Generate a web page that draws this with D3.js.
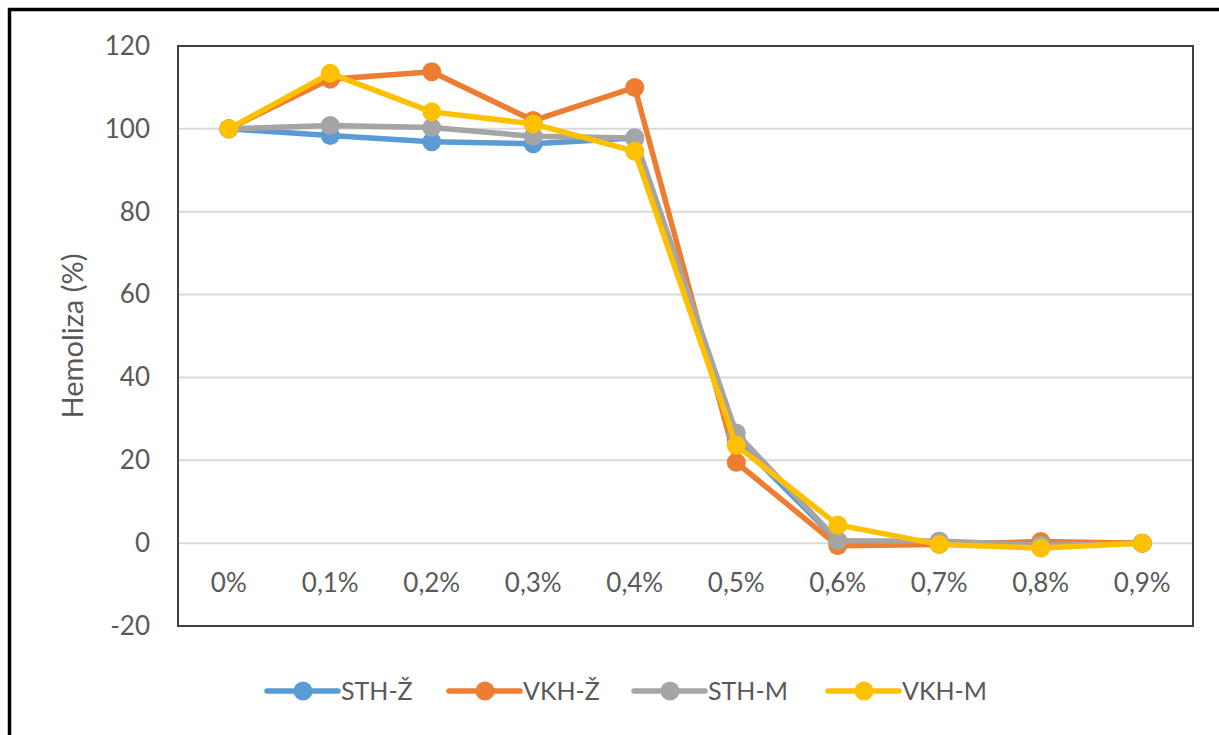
<!DOCTYPE html>
<html>
<head>
<meta charset="utf-8">
<script src="https://cdn.jsdelivr.net/npm/d3@7"></script>
<style>
  html, body { margin: 0; padding: 0; background: #fff; }
  svg { display: block; }
  text { font-family: Lato, "Open Sans", "Liberation Sans", sans-serif; fill: #595959; }
</style>
</head>
<body>
<svg id="chart" width="1219" height="735"></svg>
<script>
// ---- data ----
const categories = ["0%", "0,1%", "0,2%", "0,3%", "0,4%", "0,5%", "0,6%", "0,7%", "0,8%", "0,9%"];
const seriesNames = ["STH-Ž", "VKH-Ž", "STH-M", "VKH-M"];
const sthZ = [100, 98.4, 96.9, 96.4, 97.8, 25, 0.5, 0, 0, 0];
const vkhZ = [100, 112, 113.8, 102, 110, 19.5, -0.6, -0.3, 0.4, 0];
const sthM = [100, 100.8, 100.3, 98.2, 97.8, 26.6, 0.6, 0.5, -0.5, 0];
const vkhM = [100, 113.4, 104.1, 101.2, 94.6, 23.6, 4.4, -0.3, -1.2, 0];
const seriesValues = [sthZ, vkhZ, sthM, vkhM];
const colors = ["#5B9BD5", "#ED7D31", "#A5A5A5", "#FFC000"];
const yTicks = [-20, 0, 20, 40, 60, 80, 100, 120];
const yTickLabels = ["-20", "0", "20", "40", "60", "80", "100", "120"];
const yTitle = "Hemoliza (%)";

// ---- layout ----
const svg = d3.select("#chart");
const plot = { left: 178, right: 1193, top: 46, bottom: 626 };

const x = d3.scaleBand().domain(categories).range([plot.left, plot.right]).padding(0);
const y = d3.scaleLinear().domain([-20, 120]).range([plot.bottom, plot.top]);
const cx = c => x(c) + x.bandwidth() / 2;

// outer frame
svg.append("rect").attr("x", 9.5).attr("y", 9.5).attr("width", 1240).attr("height", 760)
  .attr("fill", "none").attr("stroke", "#000").attr("stroke-width", 3.5);

// gridlines
svg.append("g").selectAll("line").data(yTicks).join("line")
  .attr("x1", plot.left).attr("x2", plot.right)
  .attr("y1", d => y(d)).attr("y2", d => y(d))
  .attr("stroke", "#d9d9d9").attr("stroke-width", 2);

// plot border
svg.append("rect").attr("x", plot.left).attr("y", plot.top)
  .attr("width", plot.right - plot.left).attr("height", plot.bottom - plot.top)
  .attr("fill", "none").attr("stroke", "#404040").attr("stroke-width", 2);

// y axis
const yAxis = svg.append("g").attr("transform", `translate(${plot.left},0)`)
  .call(d3.axisLeft(y).tickValues(yTicks).tickSize(0).tickPadding(28)
    .tickFormat((d, i) => yTickLabels[i]));
yAxis.select(".domain").remove();
yAxis.selectAll("text").attr("font-size", 26).style("font-family", "Lato, sans-serif").attr("fill", "#595959");

// x axis (labels only)
const xAxis = svg.append("g").attr("transform", `translate(0,${y(0)})`)
  .call(d3.axisBottom(x).tickSize(0).tickPadding(30));
xAxis.select(".domain").remove();
xAxis.selectAll("text").attr("font-size", 26).style("font-family", "Lato, sans-serif").attr("fill", "#595959");

// y title
svg.append("text").attr("transform", `translate(83,${(plot.top + plot.bottom) / 2}) rotate(-90)`)
  .attr("text-anchor", "middle").attr("font-size", 29).text(yTitle);

// series
const line = d3.line().x((d, i) => cx(categories[i])).y(d => y(d));
seriesValues.forEach((vals, s) => {
  const g = svg.append("g");
  g.append("path").datum(vals).attr("d", line)
    .attr("fill", "none").attr("stroke", colors[s]).attr("stroke-width", 5.5)
    .attr("stroke-linejoin", "round");
  g.selectAll("circle").data(vals).join("circle")
    .attr("cx", (d, i) => cx(categories[i])).attr("cy", d => y(d))
    .attr("r", 9.5).attr("fill", colors[s]);
});

// legend
const legendX = [267, 449, 634, 828];
const legendY = 691;
seriesNames.forEach((name, s) => {
  const g = svg.append("g").attr("transform", `translate(${legendX[s]},${legendY})`);
  g.append("line").attr("x1", 0).attr("x2", 71).attr("y1", 0).attr("y2", 0)
    .attr("stroke", colors[s]).attr("stroke-width", 5.5).attr("stroke-linecap", "round");
  g.append("circle").attr("cx", 36).attr("cy", 0).attr("r", 9.5).attr("fill", colors[s]);
  g.append("text").attr("x", 74).attr("y", 0).attr("dy", "0.35em")
    .attr("font-size", 25).text(name);
});
</script>
</body>
</html>
